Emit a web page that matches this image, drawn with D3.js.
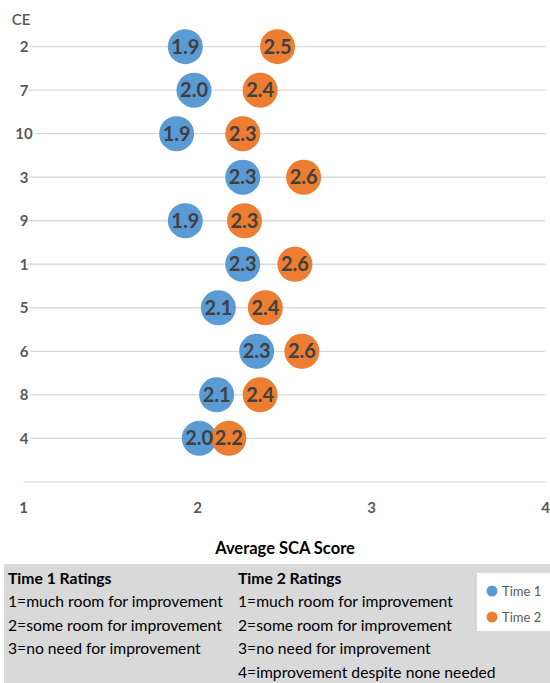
<!DOCTYPE html>
<html>
<head>
<meta charset="utf-8">
<script src="https://cdn.jsdelivr.net/npm/d3@7"></script>
<style>
  html, body { margin: 0; padding: 0; background: #ffffff; }
  svg { display: block; }
</style>
</head>
<body>
<svg id="chart" width="550" height="683"></svg>
<script>
// Community engagement (CE) units, listed top to bottom
const ceLabels = ["2", "7", "10", "3", "9", "1", "5", "6", "8", "4"];
// Average SCA score per CE at each time point
const time1 = [1.93, 1.98, 1.88, 2.26, 1.93, 2.26, 2.12, 2.34, 2.11, 2.01];
const time2 = [2.46, 2.36, 2.26, 2.61, 2.27, 2.56, 2.39, 2.60, 2.36, 2.18];
const xTicks = [1, 2, 3, 4];
const seriesNames = ["Time 1", "Time 2"];
const seriesColors = ["#5b9bd5", "#ed7d31"];
const time1Key = ["Time 1 Ratings", "1=much room for improvement", "2=some room for improvement", "3=no need for improvement"];
const time2Key = ["Time 2 Ratings", "1=much room for improvement", "2=some room for improvement", "3=no need for improvement", "4=improvement despite none needed"];

const svg = d3.select("#chart");
const FONT = "Lato, 'Open Sans', sans-serif";

const x = d3.scaleLinear().domain([1, 4]).range([23.5, 545.5]);
const y = d3.scalePoint().domain(ceLabels).range([46.7, 438.3]);
const axisY = y(ceLabels[ceLabels.length - 1]) + y.step();

// horizontal gridlines, one per CE
svg.append("g").selectAll("line").data(ceLabels).join("line")
  .attr("x1", x(1)).attr("x2", x(4))
  .attr("y1", d => y(d)).attr("y2", d => y(d))
  .attr("stroke", "#d9d9d9").attr("stroke-width", 1.3);

// bottom axis line
svg.append("line")
  .attr("x1", x(1)).attr("x2", x(4))
  .attr("y1", axisY).attr("y2", axisY)
  .attr("stroke", "#d9d9d9").attr("stroke-width", 1.3);

// CE labels down the left side (white halo masks the gridline start)
svg.append("g").selectAll("text").data(ceLabels).join("text")
  .attr("x", 24).attr("y", d => y(d) + 5.5)
  .attr("text-anchor", "middle")
  .attr("font-family", FONT).attr("font-weight", 700).attr("font-size", 15)
  .attr("fill", "#595959")
  .attr("stroke", "#ffffff").attr("stroke-width", 4).attr("paint-order", "stroke")
  .text(d => d);

svg.append("text")
  .attr("x", 21).attr("y", 24.5)
  .attr("text-anchor", "middle")
  .attr("font-family", FONT).attr("font-weight", 600).attr("font-size", 15)
  .attr("fill", "#595959")
  .text("CE");

// x tick labels
svg.append("g").selectAll("text").data(xTicks).join("text")
  .attr("x", d => x(d)).attr("y", 512.5)
  .attr("text-anchor", "middle")
  .attr("font-family", FONT).attr("font-weight", 700).attr("font-size", 15)
  .attr("fill", "#595959")
  .text(d => d);

// x axis title
svg.append("text")
  .attr("x", 285).attr("y", 554)
  .attr("text-anchor", "middle")
  .attr("font-family", FONT).attr("font-weight", 700).attr("font-size", 16.5)
  .attr("fill", "#000000")
  .text("Average SCA Score");

// dots
const series = [time1, time2];
const fmt = d3.format(".1f");
const pts = [];
series.forEach((vals, s) => vals.forEach((v, i) => pts.push({ s, v, ce: ceLabels[i] })));

svg.append("g").selectAll("circle").data(pts).join("circle")
  .attr("cx", d => x(d.v)).attr("cy", d => y(d.ce))
  .attr("r", 17.5)
  .attr("fill", d => seriesColors[d.s]);

svg.append("g").selectAll("text").data(pts).join("text")
  .attr("x", d => x(d.v)).attr("y", d => y(d.ce) + 7)
  .attr("text-anchor", "middle")
  .attr("font-family", FONT).attr("font-weight", 700).attr("font-size", 20)
  .attr("fill", "#404040")
  .text(d => fmt(d.v));

// rating key panel
svg.append("rect")
  .attr("x", 4).attr("y", 564).attr("width", 546).attr("height", 119)
  .attr("fill", "#d9d9d9");

function keyColumn(lines, x0) {
  svg.append("g").selectAll("text").data(lines).join("text")
    .attr("x", x0).attr("y", (d, i) => 583.5 + i * 23.6)
    .attr("font-family", FONT).attr("font-size", 15.7)
    .attr("font-weight", (d, i) => i === 0 ? 700 : 400)
    .attr("fill", "#000000")
    .text(d => d);
}
keyColumn(time1Key, 8);
keyColumn(time2Key, 238);

// series legend
svg.append("rect")
  .attr("x", 477).attr("y", 573).attr("width", 73).attr("height", 58)
  .attr("fill", "#ffffff");
const leg = svg.append("g").selectAll("g").data(seriesNames).join("g")
  .attr("transform", (d, i) => `translate(492, ${591 + i * 26})`);
leg.append("circle").attr("r", 5.5).attr("fill", (d, i) => seriesColors[i]);
leg.append("text")
  .attr("x", 10).attr("y", 4.5)
  .attr("font-family", FONT).attr("font-size", 13)
  .attr("fill", "#595959")
  .text(d => d);
</script>
</body>
</html>
